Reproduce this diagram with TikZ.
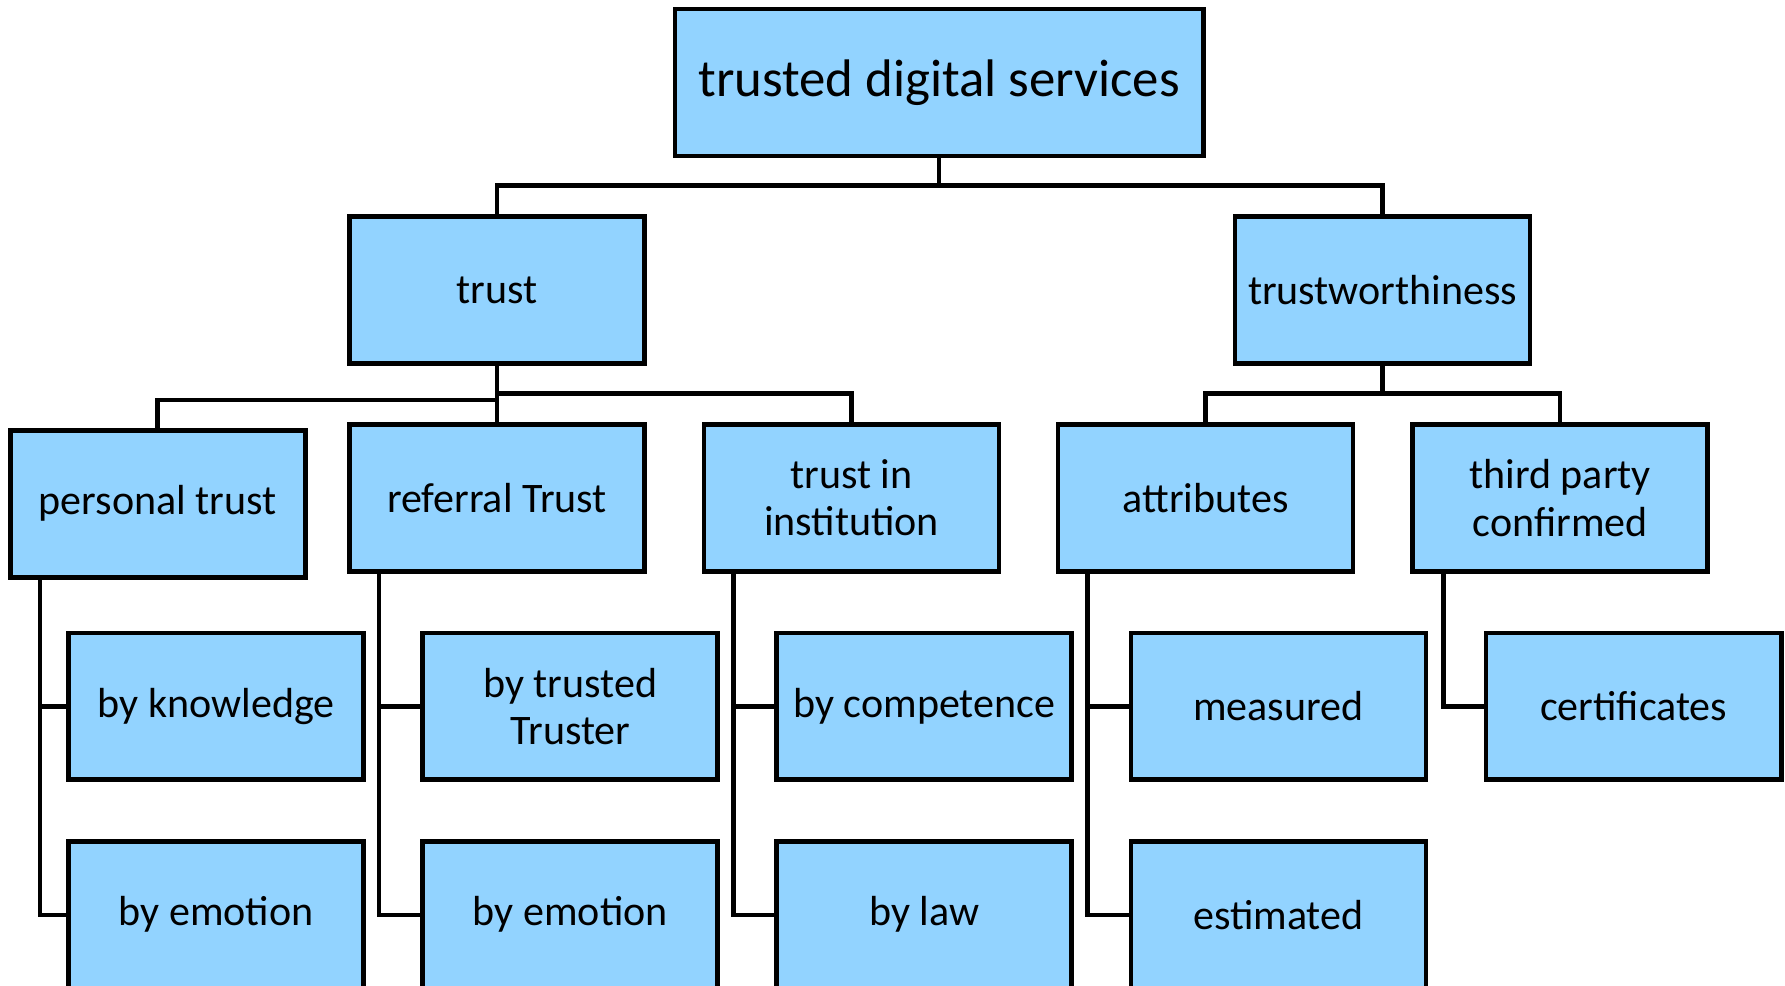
\documentclass[tikz,border=0pt]{standalone}
\usepackage{fontspec}
\setmainfont{Carlito}
\usetikzlibrary{positioning,calc}
\definecolor{boxblue}{RGB}{146,211,255}

\begin{document}
\begin{tikzpicture}[x=0.01cm,y=-0.01cm,
	box/.style={draw,fill=boxblue,line width=1.2pt,
		minimum width=2.59cm,minimum height=1.29cm,
		inner sep=0pt,outer sep=0pt,align=center,
		font=\fontsize{10.5}{11.8}\selectfont},
	link/.style={line width=1.1pt}]
	\clip (0,0) rectangle (1568,866);

	% root
	\node[box,minimum width=4.64cm,
		  font=\fontsize{13.2}{16}\selectfont]
		  (tds) at (825,72.5) {trusted digital services};

	% second level
	\node[box] (trust) at (436.5,255) {trust};
	\node[box] (tworth) at (1214.5,255) {trustworthiness};

	% third level
	\node[box] (ptrust) at (138.5,442.5) {personal trust};
	\node[box] (rtrust) at (436.5,437.5) {referral Trust};
	\node[box] (itrust) at (748,437.5) {trust in\\institution};
	\node[box] (attr) at (1059,437.5) {attributes};
	\node[box] (third) at (1370.5,437.5) {third party\\confirmed};

	% leaves
	\node[box] (know) at (190,620.5) {by knowledge};
	\node[box] (emo1) at (190,803.5) {by emotion};
	\node[box] (truster) at (501,620.5) {by trusted\\Truster};
	\node[box] (emo2) at (501,803.5) {by emotion};
	\node[box] (comp) at (812,620.5) {by competence};
	\node[box] (law) at (812,803.5) {by law};
	\node[box] (meas) at (1123,620.5) {measured};
	\node[box] (est) at (1123,803.5) {estimated};
	\node[box] (cert) at (1435,620.5) {certificates};

	\draw[link] (tds.south) -- ++(0,26) -| (trust.north);
	\draw[link] (tds.south) -- ++(0,26) -| (tworth.north);

	\draw[link] (trust.south) -- ++(0,32) -| (ptrust.north);
	\draw[link] (trust.south) -- (rtrust.north);
	\draw[link] (trust.south) -- ++(0,26) -| (itrust.north);
	\draw[link] (tworth.south) -- ++(0,26) -| (attr.north);
	\draw[link] (tworth.south) -- ++(0,26) -| (third.north);

	\draw[link] ([xshift=0.26cm]ptrust.south west) |- (know.west);
	\draw[link] ([xshift=0.26cm]ptrust.south west) |- (emo1.west);
	\draw[link] ([xshift=0.26cm]rtrust.south west) |- (truster.west);
	\draw[link] ([xshift=0.26cm]rtrust.south west) |- (emo2.west);
	\draw[link] ([xshift=0.26cm]itrust.south west) |- (comp.west);
	\draw[link] ([xshift=0.26cm]itrust.south west) |- (law.west);
	\draw[link] ([xshift=0.26cm]attr.south west) |- (meas.west);
	\draw[link] ([xshift=0.26cm]attr.south west) |- (est.west);
	\draw[link] ([xshift=0.27cm]third.south west) |- (cert.west);
\end{tikzpicture}
\end{document}
